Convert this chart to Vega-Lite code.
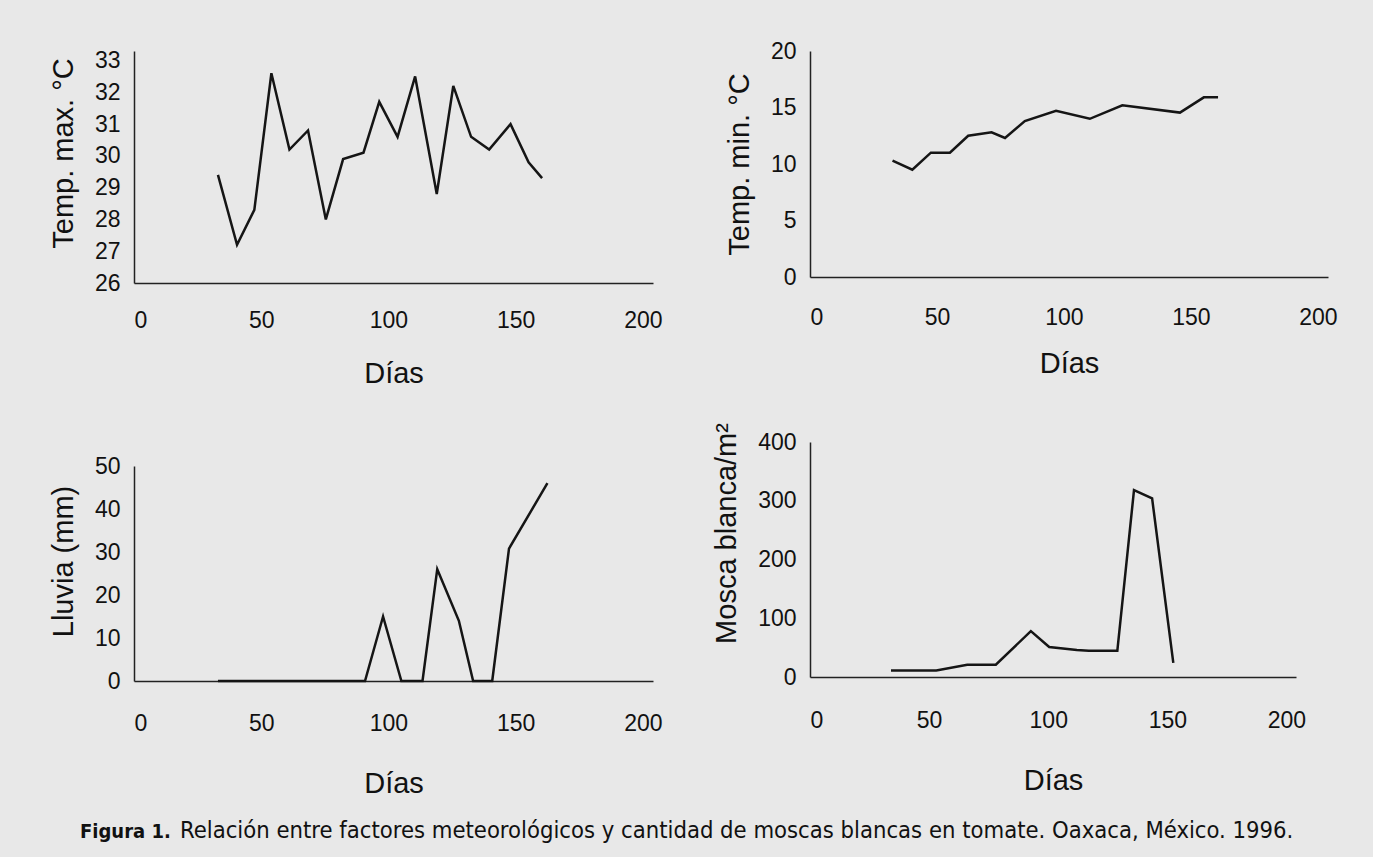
{
  "$schema": "https://vega.github.io/schema/vega-lite/v6.json",
  "background": "#e8e8e8",
  "padding": {"left": 49, "top": 40, "right": 35, "bottom": 18},
  "datasets": {
    "tmax": [
      {"dia": 33, "v": 29.4}, {"dia": 40.5, "v": 27.2}, {"dia": 47.3, "v": 28.3}, {"dia": 54, "v": 32.6},
      {"dia": 61.1, "v": 30.2}, {"dia": 68.4, "v": 30.8}, {"dia": 75.4, "v": 28.0}, {"dia": 82.2, "v": 29.9},
      {"dia": 90.2, "v": 30.1}, {"dia": 96.4, "v": 31.7}, {"dia": 103.6, "v": 30.6}, {"dia": 110.5, "v": 32.5},
      {"dia": 119, "v": 28.8}, {"dia": 125.5, "v": 32.2}, {"dia": 132.5, "v": 30.6}, {"dia": 139.6, "v": 30.2},
      {"dia": 148, "v": 31.0}, {"dia": 155.1, "v": 29.8}, {"dia": 160.4, "v": 29.3}
    ],
    "tmin": [
      {"dia": 32.5, "v": 10.3}, {"dia": 40.3, "v": 9.5}, {"dia": 47.6, "v": 11.0}, {"dia": 55.1, "v": 11.0},
      {"dia": 62.3, "v": 12.5}, {"dia": 71.5, "v": 12.8}, {"dia": 76.8, "v": 12.3}, {"dia": 84.6, "v": 13.8},
      {"dia": 96.9, "v": 14.7}, {"dia": 110.2, "v": 14.0}, {"dia": 123, "v": 15.2}, {"dia": 145.7, "v": 14.55},
      {"dia": 155.1, "v": 15.9}, {"dia": 160.7, "v": 15.9}
    ],
    "lluvia": [
      {"dia": 33, "v": 0}, {"dia": 40, "v": 0}, {"dia": 47, "v": 0}, {"dia": 54, "v": 0}, {"dia": 61, "v": 0},
      {"dia": 68, "v": 0}, {"dia": 75, "v": 0}, {"dia": 82, "v": 0}, {"dia": 90.8, "v": 0}, {"dia": 97.9, "v": 15},
      {"dia": 105.1, "v": 0}, {"dia": 113.4, "v": 0}, {"dia": 119.2, "v": 26}, {"dia": 127.7, "v": 14},
      {"dia": 133.3, "v": 0}, {"dia": 140.8, "v": 0}, {"dia": 147.4, "v": 30.8}, {"dia": 162.5, "v": 46}
    ],
    "mosca": [
      {"dia": 34, "v": 11}, {"dia": 53, "v": 11}, {"dia": 66, "v": 21}, {"dia": 78, "v": 21}, {"dia": 92.7, "v": 78},
      {"dia": 100.4, "v": 51}, {"dia": 112, "v": 46}, {"dia": 117, "v": 44.6}, {"dia": 129, "v": 44.6},
      {"dia": 136, "v": 318}, {"dia": 143.6, "v": 304}, {"dia": 152.5, "v": 24}
    ]
  },
  "bounds": "flush",
  "spacing": 676,
  "hconcat": [
    {
      "title": {
        "text": "Figura 1.", "orient": "bottom", "anchor": "start", "frame": "group", "dx": -54, "offset": 24,
        "font": "DejaVu Sans Condensed", "fontSize": 20, "fontWeight": "bold", "color": "#111"
      },
      "bounds": "flush",
      "spacing": 183,
      "vconcat": [
        {
          "data": {"name": "tmax"},
          "width": 519, "height": 232,
          "mark": {"type": "line", "color": "#151515", "strokeWidth": 2.5},
          "encoding": {
            "x": {"field": "dia", "type": "quantitative", "scale": {"domain": [0, 204], "nice": false},
                  "axis": {"values": [0, 50, 100, 150, 200], "title": "Días", "labelPadding": 26, "titlePadding": 27}},
            "y": {"field": "v", "type": "quantitative", "scale": {"domain": [26, 33.3], "nice": false, "zero": false},
                  "axis": {"values": [26, 27, 28, 29, 30, 31, 32, 33], "title": "Temp. max. °C", "titleY": 102}}
          }
        },
        {
          "data": {"name": "lluvia"},
          "width": 519, "height": 215,
          "mark": {"type": "line", "color": "#151515", "strokeWidth": 2.5},
          "encoding": {
            "x": {"field": "dia", "type": "quantitative", "scale": {"domain": [0, 204], "nice": false},
                  "axis": {"values": [0, 50, 100, 150, 200], "title": "Días", "labelPadding": 31, "titlePadding": 34}},
            "y": {"field": "v", "type": "quantitative", "scale": {"domain": [0, 50], "nice": false},
                  "axis": {"values": [0, 10, 20, 30, 40, 50], "title": "Lluvia (mm)", "titleY": 95}}
          }
        }
      ]
    },
    {
      "title": {
        "text": "Relación entre factores meteorológicos y cantidad de moscas blancas en tomate.   Oaxaca, México.   1996.",
        "orient": "bottom", "anchor": "start", "frame": "group", "dx": -630, "offset": 24,
        "font": "DejaVu Sans Condensed", "fontSize": 23.6, "fontWeight": "normal", "color": "#111"
      },
      "bounds": "flush",
      "spacing": 165,
      "vconcat": [
        {
          "data": {"name": "tmin"},
          "width": 518, "height": 226,
          "mark": {"type": "line", "color": "#151515", "strokeWidth": 2.5},
          "encoding": {
            "x": {"field": "dia", "type": "quantitative", "scale": {"domain": [0, 204], "nice": false},
                  "axis": {"values": [0, 50, 100, 150, 200], "title": "Días", "labelPadding": 29, "titlePadding": 20}},
            "y": {"field": "v", "type": "quantitative", "scale": {"domain": [0, 20], "nice": false},
                  "axis": {"values": [0, 5, 10, 15, 20], "title": "Temp. min. °C"}}
          }
        },
        {
          "data": {"name": "mosca"},
          "width": 486, "height": 235,
          "mark": {"type": "line", "color": "#151515", "strokeWidth": 2.5},
          "encoding": {
            "x": {"field": "dia", "type": "quantitative", "scale": {"domain": [0, 204], "nice": false},
                  "axis": {"values": [0, 50, 100, 150, 200], "title": "Días", "labelPadding": 32, "titlePadding": 34}},
            "y": {"field": "v", "type": "quantitative", "scale": {"domain": [0, 400], "nice": false},
                  "axis": {"values": [0, 100, 200, 300, 400], "title": "Mosca blanca/m²", "titleY": 91}}
          }
        }
      ]
    }
  ],
  "config": {
    "view": {"stroke": null},
    "axis": {
      "grid": false, "ticks": false,
      "domainColor": "#222", "domainWidth": 1.5,
      "labelFont": "Liberation Sans", "labelFontSize": 23, "labelColor": "#111",
      "titleFont": "Liberation Sans", "titleFontSize": 29, "titleFontWeight": "normal", "titleColor": "#111"
    },
    "axisY": {"labelPadding": 14, "titlePadding": 16}
  }
}
